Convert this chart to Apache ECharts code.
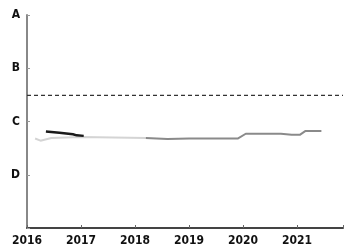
<!DOCTYPE html>
<html>
<head>
<meta charset="utf-8">
<script src="https://cdn.jsdelivr.net/npm/echarts@6/dist/echarts.min.js"></script>
<style>
  html, body { margin: 0; padding: 0; background: #fff; }
  #chart { width: 346px; height: 252px; }
</style>
</head>
<body>
<div id="chart"></div>
<script>
// y axis grades, bottom to top
const gradeLabels = ['', 'D', 'C', 'B', 'A']
const yearTicks = [2016, 2017, 2018, 2019, 2020, 2021]

// series [year, grade value]
const lightSeries = [[2016.15, 1.68], [2016.25, 1.64], [2016.45, 1.69], [2017.0, 1.71], [2017.6, 1.70], [2018.2, 1.69]]
const midSeries = [[2018.2, 1.69], [2018.6, 1.67], [2019.0, 1.68], [2019.9, 1.68], [2020.05, 1.77], [2020.7, 1.77],
  [2020.9, 1.75], [2021.05, 1.75], [2021.15, 1.82], [2021.45, 1.82]]
const darkSeries = [[2016.35, 1.81], [2016.6, 1.79], [2016.85, 1.76], [2016.92, 1.74], [2017.05, 1.73]]
const thresholdValue = 2.49
const xMax = 2021.85

const chart = echarts.init(document.getElementById('chart'))
chart.setOption({
  animation: false,
  grid: { left: 27, right: 0, top: 15, bottom: 24 },
  xAxis: {
    type: 'value',
    min: 2016,
    max: xMax,
    interval: 1,
    axisLine: { lineStyle: { color: '#444', width: 2 } },
    axisTick: { show: true, inside: true, length: 3, lineStyle: { color: '#666' } },
    splitLine: { show: false },
    axisLabel: {
      color: '#111', fontWeight: 'bold', fontSize: 12, margin: 7,
      fontFamily: 'DejaVu Sans Condensed',
      formatter: v => (yearTicks.includes(Math.round(v)) && Math.abs(v - Math.round(v)) < 0.01) ? String(Math.round(v)) : ''
    }
  },
  yAxis: {
    type: 'value',
    min: 0,
    max: 4,
    interval: 1,
    axisLine: { show: true, lineStyle: { color: '#888', width: 2 } },
    axisTick: { show: true, inside: true, length: 3, lineStyle: { color: '#999' } },
    splitLine: { show: false },
    axisLabel: {
      color: '#111', fontWeight: 'bold', fontSize: 12, margin: 7,
      fontFamily: 'DejaVu Sans Condensed',
      formatter: v => gradeLabels[v] || ''
    }
  },
  series: [
    {
      type: 'line', data: [[2016, thresholdValue], [xMax, thresholdValue]],
      symbol: 'none', lineStyle: { color: '#333', width: 1.2, type: [4, 3] }
    },
    {
      type: 'line', data: lightSeries, symbol: 'none',
      lineStyle: { color: '#d4d4d4', width: 2 }
    },
    {
      type: 'line', data: midSeries, symbol: 'none',
      lineStyle: { color: '#8a8a8a', width: 2 }
    },
    {
      type: 'line', data: darkSeries, symbol: 'none',
      lineStyle: { color: '#1a1a1a', width: 2.5 }
    }
  ]
})
</script>
</body>
</html>
